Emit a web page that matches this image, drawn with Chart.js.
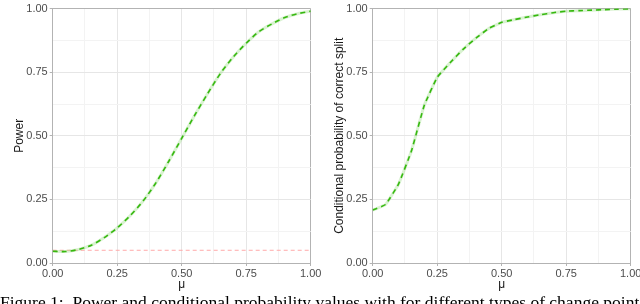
<!DOCTYPE html>
<html>
<head>
<meta charset="utf-8">
<script src="https://cdn.jsdelivr.net/npm/chart.js@4"></script>
<style>
  html, body { margin: 0; padding: 0; background: #fff; overflow: hidden; width: 640px; height: 304px; }
  #wrap { position: relative; width: 640px; height: 304px; overflow: hidden; }
  .panel { position: absolute; top: 0; width: 340px; height: 295px; }
  #left { left: 0; }
  #right { left: 320px; }
  #caption {
    position: absolute; left: 0; top: 292px; white-space: nowrap;
    font-family: "Liberation Serif", "DejaVu Serif", serif; font-size: 17.5px; color: #000;
  }
</style>
</head>
<body>
<div id="wrap">
  <div class="panel" id="left"><canvas id="c1" width="340" height="295"></canvas></div>
  <div class="panel" id="right"><canvas id="c2" width="340" height="295"></canvas></div>
  <div id="caption">Figure 1:&nbsp; Power and conditional probability values with for different types of change point</div>
</div>
<script>
// mu grid shared by both panels
const mu = [0, 0.05, 0.1, 0.15, 0.2, 0.25, 0.3, 0.35, 0.4, 0.45, 0.5,
            0.55, 0.6, 0.65, 0.7, 0.75, 0.8, 0.85, 0.9, 0.95, 1.0];

// left panel: power
const power = [0.046, 0.045, 0.053, 0.070, 0.100, 0.138, 0.186, 0.243, 0.315, 0.400, 0.490,
               0.580, 0.665, 0.745, 0.810, 0.864, 0.910, 0.940, 0.965, 0.980, 0.990];
const alphaLevel = 0.05;

// right panel: conditional probability of correct split
const condProb = [0.208, 0.230, 0.310, 0.440, 0.620, 0.730, 0.787, 0.840, 0.884, 0.922, 0.946,
                  0.957, 0.967, 0.976, 0.984, 0.990, 0.992, 0.994, 0.996, 0.998, 0.999];

const tickLabels = ['0.00', '0.25', '0.50', '0.75', '1.00'];

const GREEN = '#36b80f';
const HALO = 'rgba(120, 210, 90, 0.28)';
const BORDER = '#b3b3b3';
const FONT = "'Liberation Sans', Arial, sans-serif";

function isMajor(v) {
  return Math.abs(v * 4 - Math.round(v * 4)) < 1e-6;
}

function gridColor(ctx) {
  const v = ctx.tick ? ctx.tick.value : 0;
  if (Math.abs(v - 1) < 1e-6) return BORDER;
  return isMajor(v) ? '#e6e6e6' : '#f3f3f3';
}

function tickColor(ctx) {
  const v = ctx.tick ? ctx.tick.value : 0;
  return isMajor(v) ? BORDER : 'rgba(0,0,0,0)';
}

function labelFor(v) {
  return isMajor(v) ? tickLabels[Math.round(v * 4)] : '';
}

function makeChart(id, values, yTitle, withAlpha, tension) {
  const datasets = [
    {
      data: values.map((v, i) => ({ x: mu[i], y: v })),
      borderColor: GREEN,
      borderWidth: 1.6,
      borderDash: [5, 4],
      pointRadius: 0,
      tension: tension,
      fill: false,
      order: 0
    },
    {
      data: values.map((v, i) => ({ x: mu[i], y: v })),
      borderColor: HALO,
      borderWidth: 3,
      pointRadius: 0,
      tension: tension,
      fill: false,
      order: 1
    }
  ];
  if (withAlpha) {
    datasets.push({
      data: [{ x: 0, y: alphaLevel }, { x: 1, y: alphaLevel }],
      borderColor: '#ffaaaa',
      borderWidth: 1,
      borderDash: [4, 3],
      pointRadius: 0,
      fill: false,
      order: 2
    });
  }

  return new Chart(document.getElementById(id).getContext('2d'), {
    type: 'line',
    data: { datasets },
    options: {
      responsive: false,
      animation: false,
      layout: { padding: { left: 0, top: 5, right: 29.3, bottom: 0 } },
      plugins: { legend: { display: false }, tooltip: { enabled: false } },
      scales: {
        x: {
          type: 'linear',
          min: 0, max: 1,
          afterFit: s => { s.height = 32; },
          ticks: {
            stepSize: 0.125,
            autoSkip: false,
            maxRotation: 0,
            padding: 1.5,
            color: '#4d4d4d',
            font: { family: FONT, size: 11 },
            callback: v => labelFor(v)
          },
          grid: { color: gridColor, tickColor: tickColor, tickLength: 3, lineWidth: 1 },
          border: { color: BORDER, width: 1 },
          title: {
            display: true, text: 'μ', color: '#1a1a1a',
            font: { family: FONT, size: 12 },
            padding: { top: 0, bottom: 3.5 }
          }
        },
        y: {
          type: 'linear',
          min: 0, max: 1,
          afterFit: s => { s.width = 52.7; },
          ticks: {
            stepSize: 0.125,
            autoSkip: false,
            padding: 2,
            color: '#4d4d4d',
            font: { family: FONT, size: 11 },
            callback: v => labelFor(v)
          },
          grid: { color: gridColor, tickColor: tickColor, tickLength: 3, lineWidth: 1 },
          border: { color: BORDER, width: 1 },
          title: {
            display: true, text: yTitle, color: '#1a1a1a',
            font: { family: FONT, size: 12 },
            padding: { top: 12, bottom: 0 }
          }
        }
      }
    }
  });
}

makeChart('c1', power, 'Power', true, 0.25);
makeChart('c2', condProb, 'Conditional probability of correct split', false, 0.1);
</script>
</body>
</html>
